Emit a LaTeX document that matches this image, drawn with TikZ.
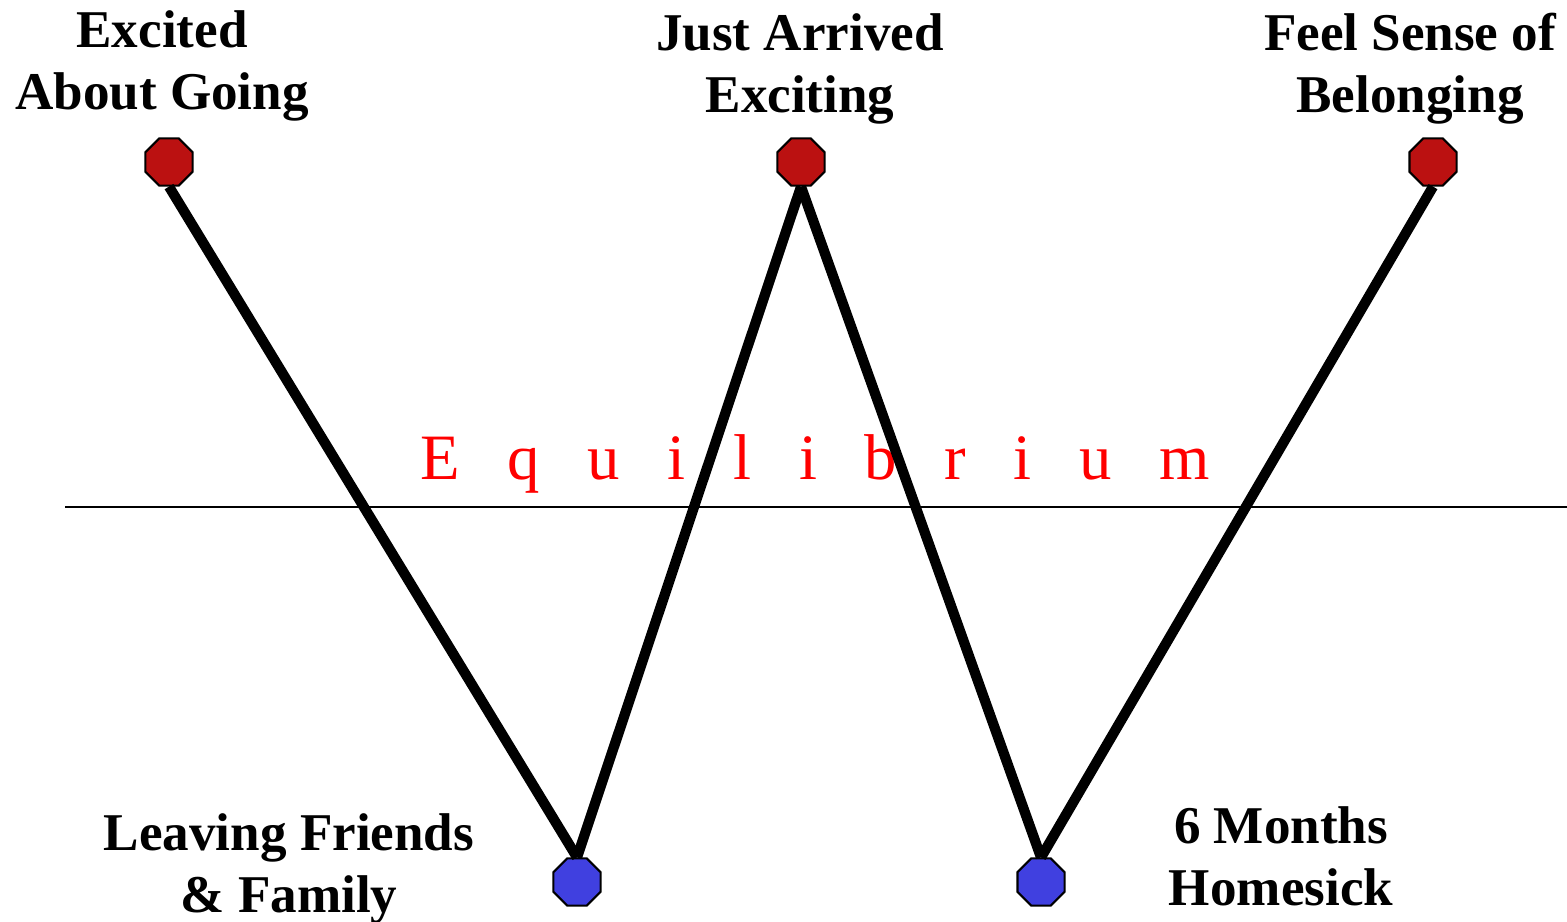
\documentclass[tikz,border=0pt]{standalone}
\usepackage{fontspec}
\setmainfont{Liberation Serif}
\usepackage{xcolor}
\usetikzlibrary{shapes.geometric}

\definecolor{stopred}{RGB}{187,17,17}
\definecolor{stopblue}{RGB}{64,64,224}

\tikzset{
  stop/.style={regular polygon, regular polygon sides=8, draw=black, line width=0.6pt,
    inner sep=0pt, minimum size=0.51cm},
  highstop/.style={stop, fill=stopred},
  lowstop/.style={stop, fill=stopblue},
  phase/.style={align=center, inner sep=0pt,
    font={\fontsize{15.1pt}{17.6pt}\selectfont\bfseries}},
  wline/.style={line width=0.102cm}
}

\begin{document}
\begin{tikzpicture}[x=0.01cm, y=-0.01cm]
  \useasboundingbox (0,0) rectangle (1567,922);

  % Equilibrium line
  \coordinate (eqL) at (65,507);
  \coordinate (eqR) at (1567,507);
  \draw[line width=0.6pt] (eqL) -- (eqR);
  \node[anchor=base west, inner sep=0pt, text=red,
        font={\fontsize{18.4pt}{20pt}\selectfont}] (eqtext) at (420,480)
    {E\hspace{0.476cm}q\hspace{0.476cm}u\hspace{0.476cm}i\hspace{0.476cm}l\hspace{0.476cm}i\hspace{0.476cm}b\hspace{0.476cm}r\hspace{0.476cm}i\hspace{0.476cm}u\hspace{0.476cm}m};

  % Highs and lows
  \node[highstop] (high1) at (169,162) {};
  \node[highstop] (high2) at (801,162) {};
  \node[highstop] (high3) at (1433,162) {};
  \node[lowstop] (low1) at (577,882) {};
  \node[lowstop] (low2) at (1041,882) {};

  % The W
  \draw[wline] (high1.south) -- (low1.north);
  \draw[wline] (low1.north) -- (high2.south);
  \draw[wline] (high2.south) -- (low2.north);
  \draw[wline] (low2.north) -- (high3.south);

  % Labels
  \node[phase] (excited) at (162,66) {Excited\\About Going};
  \node[phase] (arrived) at (800,69) {Just Arrived\\Exciting};
  \node[phase] (belong) at (1410,69) {Feel Sense of\\Belonging};
  \node[phase] (leaving) at (289,869) {Leaving Friends\\\& Family};
  \node[phase] (homesick) at (1281,856) {6 Months\\Homesick};
\end{tikzpicture}
\end{document}
